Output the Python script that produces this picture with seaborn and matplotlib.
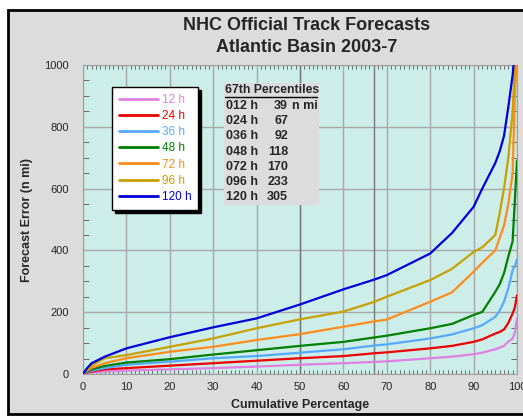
import pandas as pd
import matplotlib.pyplot as plt
import seaborn as sns
from matplotlib.patches import Rectangle
from matplotlib.lines import Line2D
from matplotlib.ticker import MultipleLocator

# cumulative percentage sample points and forecast errors (n mi)
pct = [0, 1, 2, 5, 10, 20, 30, 40, 50, 60, 67, 70, 80, 85, 90, 92, 95, 96, 97, 98, 99, 99.5, 100]
err_12 = [0, 3, 5, 8, 11, 15, 19, 24, 30, 35, 39, 41, 51, 56, 64, 69, 80, 85, 91, 105, 115, 135, 180]
err_24 = [0, 5, 8, 15, 19, 27, 35, 43, 51, 58, 67, 70, 83, 91, 104, 112, 131, 136, 144, 165, 196, 215, 255]
err_36 = [0, 7, 11, 19, 30, 40, 51, 58, 69, 80, 92, 96, 115, 128, 148, 158, 185, 205, 234, 277, 336, 350, 370]
err_48 = [0, 9, 15, 26, 37, 48, 63, 77, 91, 104, 118, 124, 148, 162, 191, 201, 266, 290, 326, 380, 430, 560, 690]
err_72 = [0, 12, 20, 35, 51, 72, 88, 110, 129, 153, 170, 176, 234, 264, 331, 360, 400, 440, 480, 550, 650, 900, 1050]
err_96 = [0, 15, 28, 51, 61, 88, 115, 148, 177, 202, 233, 250, 304, 340, 395, 410, 450, 520, 600, 700, 850, 1000, 1100]
err_120 = [0, 20, 35, 56, 83, 119, 151, 180, 225, 274, 305, 320, 390, 456, 541, 600, 683, 720, 770, 864, 968, 1050, 1200]

series = ['12 h', '24 h', '36 h', '48 h', '72 h', '96 h', '120 h']
colors = ['#e080e0', '#ee0000', '#55aaff', '#008000', '#ff8c1a', '#c8a000', '#0000dd']

table_hours = ['012 h', '024 h', '036 h', '048 h', '072 h', '096 h', '120 h']
table_vals = ['39', '67', '92', '118', '170', '233', '305']

errs = [err_12, err_24, err_36, err_48, err_72, err_96, err_120]
df = pd.concat([pd.DataFrame({'pct': pct, 'err': e, 'lead': s}) for s, e in zip(series, errs)])

sns.set_style('white')
plt.rcParams['font.family'] = ['Liberation Sans', 'DejaVu Sans']

W, H = 523, 417
fig = plt.figure(figsize=(W / 100, H / 100), dpi=100, facecolor='white')

def fx(px):
    return px / W

def fy(py):
    return 1 - py / H

# gray panel with black frame
fig.patches.append(Rectangle((fx(8), fy(414)), 1.2, fy(10) - fy(414), transform=fig.transFigure,
                             facecolor='#dcdcdc', edgecolor='black', linewidth=2, zorder=-10))

ax = fig.add_axes([fx(83), fy(374), fx(517) - fx(83), fy(65) - fy(374)])
ax.set_facecolor('#ccede8')

sns.lineplot(data=df, x='pct', y='err', hue='lead', palette=colors, hue_order=series,
             linewidth=1.6, legend=False, ax=ax, zorder=3)

ax.set_xlim(0, 100)
ax.set_ylim(0, 1000)
ax.xaxis.set_major_locator(MultipleLocator(10))
ax.xaxis.set_minor_locator(MultipleLocator(1))
ax.yaxis.set_major_locator(MultipleLocator(200))
ax.yaxis.set_minor_locator(MultipleLocator(50))
ax.tick_params(axis='x', which='major', length=0, labelsize=8, pad=6)
ax.tick_params(axis='x', which='minor', direction='in', length=3, top=True, bottom=True, color='#555555')
ax.tick_params(axis='y', which='major', direction='out', length=8, labelsize=8, color='#888888', pad=2)
ax.tick_params(axis='y', which='minor', direction='in', length=4, left=True, right=True, color='#555555')
ax.grid(True, which='major', color='#a8a8a8', linewidth=1)
for xv in [50, 67]:
    ax.axvline(xv, color='#777777', linewidth=1, zorder=1)
for sp in ax.spines.values():
    sp.set_color('#a0a0a0')

ax.set_xlabel('Cumulative Percentage', fontsize=9, fontweight='bold', labelpad=5)
ax.set_ylabel('Forecast Error (n mi)', fontsize=9, fontweight='bold', labelpad=8)

fig.text(fx(307), fy(26), 'NHC Official Track Forecasts', ha='center', va='center',
         fontsize=13, fontweight='bold')
fig.text(fx(307), fy(48), 'Atlantic Basin 2003-7', ha='center', va='center',
         fontsize=13, fontweight='bold')

# legend
handles = [Line2D([0], [0], color=c, linewidth=2) for c in colors]
leg = ax.legend(handles, series, loc='upper left',
                bbox_to_anchor=(fx(112), fy(87)), bbox_transform=fig.transFigure,
                fontsize=8.5, labelcolor=colors, frameon=True, fancybox=False,
                shadow={'color': 'black', 'alpha': 1}, handlelength=3.3, handletextpad=0.3,
                labelspacing=0.35, borderpad=0.6, borderaxespad=0)
leg.get_frame().set_facecolor('white')
leg.get_frame().set_edgecolor('black')
leg.get_frame().set_linewidth(1)
leg.set_zorder(5)

# percentile table
fig.patches.append(Rectangle((fx(224), fy(205)), fx(319) - fx(224), fy(83) - fy(205),
                             transform=fig.transFigure, facecolor='#dcdcdc', edgecolor='none', zorder=4))
fig.text(fx(225), fy(90), '67th Percentiles', ha='left', va='center', fontsize=8.8,
         fontweight='bold', zorder=5)
fig.lines.append(Line2D([fx(225), fx(317)], [fy(97), fy(97)], transform=fig.transFigure,
                        color='black', linewidth=1, zorder=5))
for i, (hr, v) in enumerate(zip(table_hours, table_vals)):
    yy = fy(106 + i * 15.2)
    fig.text(fx(226), yy, hr, ha='left', va='center', fontsize=9, fontweight='bold', zorder=5)
    fig.text(fx(288), yy, v, ha='right', va='center', fontsize=9, fontweight='bold', zorder=5)
    if i == 0:
        fig.text(fx(292), yy, 'n mi', ha='left', va='center', fontsize=9, fontweight='bold', zorder=5)

fig.savefig('out.png', dpi=100)
